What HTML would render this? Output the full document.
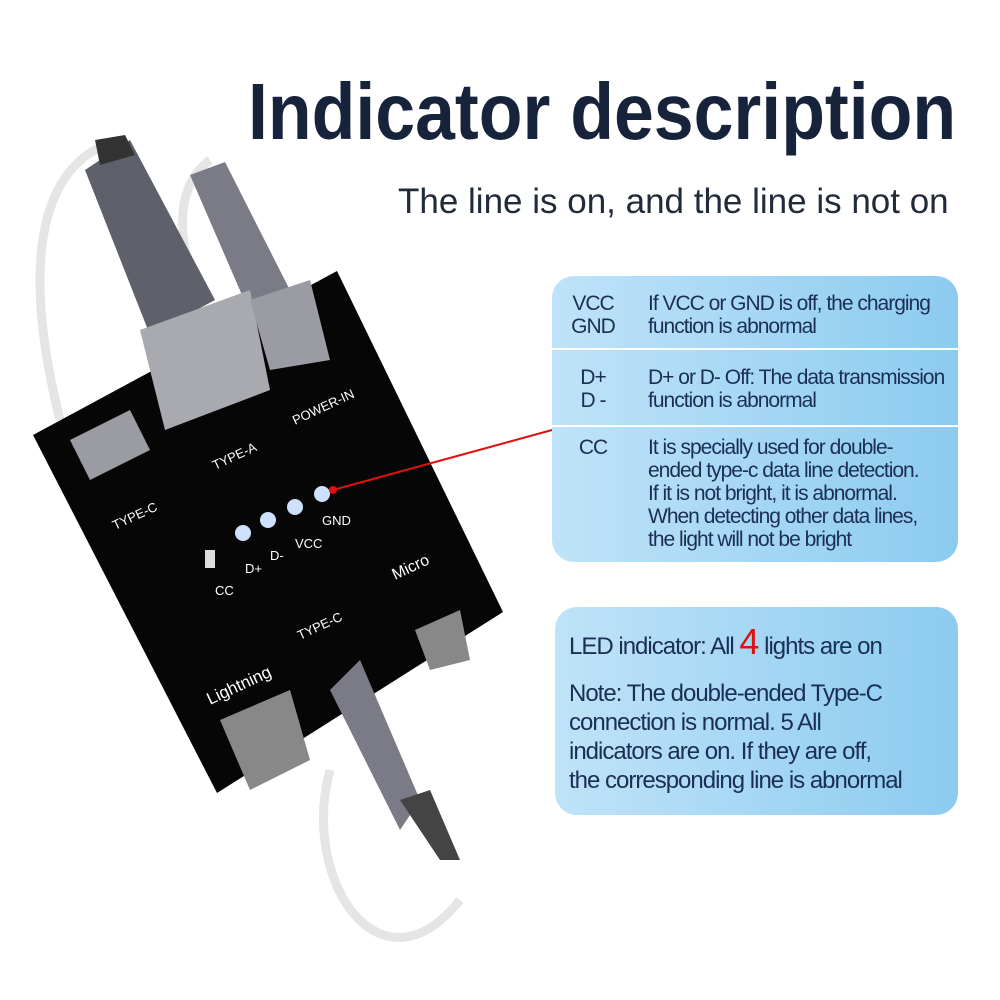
<!DOCTYPE html>
<html><head><meta charset="utf-8"><style>
body{margin:0;width:1000px;height:1000px;background:#fff;overflow:hidden;position:relative;font-family:"Liberation Sans",sans-serif}
.t{position:absolute;color:#16233a;white-space:nowrap;transform-origin:0 0}
.box{position:absolute;border-radius:22px;background:linear-gradient(90deg,#bfe3f8,#8ccbf0);color:#1b2f55;font-size:21px;letter-spacing:-1px;line-height:23px;white-space:nowrap}
.hr{position:absolute;left:0;right:0;height:2px;background:#fff}
</style></head><body>
<div class="t" id="ti" style="left:248px;top:66px;font-size:80px;font-weight:bold;transform:scaleX(0.895)">Indicator description</div>
<div class="t" style="left:398px;top:182px;font-size:35px;color:#222b3a">The line is on, and the line is not on</div>

<svg width="1000" height="1000" style="position:absolute;left:0;top:0">
<path d="M120 140 C40 160 20 260 60 420" stroke="#e5e5e5" stroke-width="9" fill="none"/>
<path d="M210 160 C170 190 180 250 200 300" stroke="#e5e5e5" stroke-width="9" fill="none"/>
<path d="M330 770 C300 880 380 1000 460 900" stroke="#e5e5e5" stroke-width="9" fill="none"/>
<polygon points="85,170 130,140 215,300 150,335" fill="#5e606b"/>
<polygon points="95,140 125,135 135,155 100,165" fill="#333"/>
<polygon points="190,175 225,162 300,310 255,325" fill="#7a7b86"/>
<polygon points="33,435 337,271 503,612 217,793" fill="#060606"/>
<polygon points="140,330 250,290 270,390 165,430" fill="#a9aab0"/>
<polygon points="250,300 310,280 330,360 270,370" fill="#9a9ba3"/>
<polygon points="70,440 130,410 150,450 90,480" fill="#9a9ba3"/>
<polygon points="220,720 290,690 310,760 250,790" fill="#888"/>
<polygon points="330,690 360,660 420,800 400,830" fill="#7a7b86"/>
<polygon points="400,800 430,790 460,860 440,860" fill="#444"/>
<polygon points="415,630 460,610 470,660 430,670" fill="#888"/>
<g fill="#fff" font-size="13">
<text x="115" y="530" transform="rotate(-25 115 530)">TYPE-C</text>
<text x="215" y="470" transform="rotate(-25 215 470)">TYPE-A</text>
<text x="295" y="425" transform="rotate(-25 295 425)">POWER-IN</text>
<text x="300" y="640" transform="rotate(-25 300 640)">TYPE-C</text>
<text x="395" y="580" font-size="16" transform="rotate(-25 395 580)">Micro</text>
<text x="210" y="705" font-size="17" transform="rotate(-25 210 705)">Lightning</text>
<text x="215" y="595">CC</text><text x="245" y="573">D+</text><text x="270" y="560">D-</text><text x="295" y="548">VCC</text><text x="322" y="525">GND</text>
</g>
<g fill="#cfe0ff"><circle cx="243" cy="533" r="8"/><circle cx="268" cy="520" r="8"/><circle cx="295" cy="507" r="8"/><circle cx="322" cy="494" r="8"/></g>
<rect x="205" y="550" width="10" height="18" fill="#ddd"/>
<line x1="333" y1="490" x2="552" y2="430" stroke="#e01010" stroke-width="2"/>
<circle cx="333" cy="490" r="4" fill="#e01010"/>
</svg>

<div class="box" style="left:552px;top:276px;width:406px;height:286px">
<div class="hr" style="top:72px"></div><div class="hr" style="top:149px"></div>
<div style="position:absolute;left:18px;top:16px;width:46px;text-align:center">VCC<br>GND</div>
<div style="position:absolute;left:96px;top:16px">If VCC or GND is off, the charging<br>function is abnormal</div>
<div style="position:absolute;left:18px;top:90px;width:46px;text-align:center">D+<br>D -</div>
<div style="position:absolute;left:96px;top:90px">D+ or D- Off: The data transmission<br>function is abnormal</div>
<div style="position:absolute;left:18px;top:160px;width:46px;text-align:center">CC</div>
<div style="position:absolute;left:96px;top:160px">It is specially used for double-<br>ended type-c data line detection.<br>If it is not bright, it is abnormal.<br>When detecting other data lines,<br>the light will not be bright</div>
</div>
<div class="box" style="left:555px;top:607px;width:403px;height:208px;font-size:24px;line-height:29px">
<div style="position:absolute;left:14px;top:20px">LED indicator: All <span style="color:#e01010;font-size:36px">4</span> lights are on</div>
<div style="position:absolute;left:14px;top:72px">Note: The double-ended Type-C<br>connection is normal. 5 All<br>indicators are on. If they are off,<br>the corresponding line is abnormal</div>
</div>
</body></html>
